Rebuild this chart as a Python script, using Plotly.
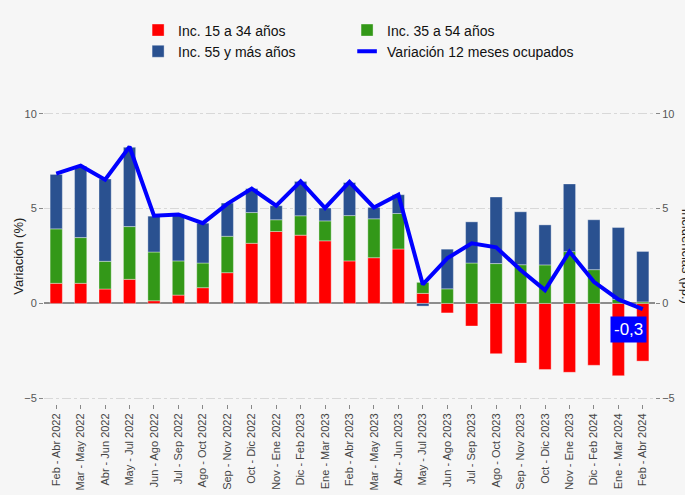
import plotly.graph_objects as go

periodos = ["Feb - Abr 2022", "Mar - May 2022", "Abr - Jun 2022", "May - Jul 2022", "Jun - Ago 2022",
            "Jul - Sep 2022", "Ago - Oct 2022", "Sep - Nov 2022", "Oct - Dic 2022", "Nov - Ene 2022",
            "Dic - Feb 2023", "Ene - Mar 2023", "Feb - Abr 2023", "Mar - May 2023", "Abr - Jun 2023",
            "May - Jul 2023", "Jun - Ago 2023", "Jul - Sep 2023", "Ago - Oct 2023", "Sep - Nov 2023",
            "Oct - Dic 2023", "Nov - Ene 2023", "Dic - Feb 2024", "Ene - Mar 2024", "Feb - Abr 2024"]

inc_15_34 = [1.06, 1.06, 0.76, 1.27, 0.14, 0.44, 0.83, 1.62, 3.17, 3.79, 3.60, 3.30, 2.24,
             2.41, 2.87, 0.53, -0.50, -1.19, -2.65, -3.14, -3.48, -3.63, -3.26, -3.81, -3.04]
inc_35_54 = [2.87, 2.41, 1.46, 2.78, 2.57, 1.80, 1.30, 1.92, 1.62, 0.62, 1.02, 1.05, 2.39,
             2.05, 1.87, 0.58, 0.77, 2.13, 2.10, 2.04, 2.03, 2.73, 1.78, 0.21, 0.08]
inc_55_mas = [2.87, 3.76, 4.34, 4.18, 1.89, 2.43, 2.10, 1.75, 1.26, 0.74, 1.81, 0.68, 1.74,
              0.60, 0.99, -0.14, 2.09, 2.17, 3.51, 2.79, 2.11, 3.57, 2.63, 3.79, 2.66]
variacion = [6.84, 7.26, 6.52, 8.26, 4.62, 4.69, 4.23, 5.25, 6.05, 5.15, 6.43, 5.03, 6.40,
             5.06, 5.73, 1.00, 2.38, 3.17, 2.96, 1.76, 0.70, 2.73, 1.14, 0.21, -0.30]

y_ticks = [-5, 0, 5, 10]

BG = "#f6f6f6"
FONT = "Liberation Sans, Arial"
EDGE = dict(color="rgba(255,255,255,0.35)", width=1)
LEG_FONT = dict(size=14, color="#111111", family=FONT)

fig = go.Figure()
fig.add_trace(go.Bar(x=periodos, y=inc_15_34, name="Inc. 15 a 34 años", marker_color="#ff0000",
                     marker_line=EDGE, legend="legend"))
fig.add_trace(go.Bar(x=periodos, y=inc_35_54, name="Inc. 35 a 54 años", marker_color="#339818",
                     marker_line=EDGE, legend="legend2"))
fig.add_trace(go.Bar(x=periodos, y=inc_55_mas, name="Inc. 55 y más años", marker_color="#2a5190",
                     marker_line=EDGE, legend="legend"))
fig.add_trace(go.Scatter(x=periodos, y=variacion, name="Variación 12 meses ocupados", mode="lines",
                         line=dict(color="#0000ff", width=4), showlegend=False))
# legend entry with a short line symbol
fig.add_trace(go.Scatter(x=[periodos[0]], y=[None], name="Variación 12 meses ocupados", mode="markers",
                         marker=dict(symbol="line-ew", size=14, line=dict(color="#0000ff", width=4)),
                         legend="legend2", hoverinfo="skip"))
# invisible trace to carry the right axis
fig.add_trace(go.Scatter(x=periodos, y=variacion, yaxis="y2", mode="lines", line=dict(width=0),
                         showlegend=False, hoverinfo="skip", opacity=0))

fig.add_annotation(x=periodos[-1], y=variacion[-1], text="-0,3", showarrow=False, xshift=-14, yshift=-20,
                   bgcolor="#0000ff", font=dict(color="white", size=17, family=FONT), borderpad=3)
fig.add_annotation(xref="paper", yref="paper", x=-0.043, xanchor="center", y=0.5, text="Variación (%)",
                   textangle=-90, showarrow=False, font=dict(size=13, color="#222222", family=FONT))
fig.add_annotation(xref="paper", yref="paper", x=1.0376, xanchor="left", y=0.5, text="Incidencias (pp.)",
                   textangle=90, showarrow=False, font=dict(size=13, color="#222222", family=FONT))

fig.update_xaxes(tickangle=-90, ticks="outside", ticklen=4, tickcolor="#888888", showgrid=False, automargin=False,
                 tickfont=dict(size=11, color="#444444", family=FONT), range=[-0.5, 24.5])
fig.update_layout(
    barmode="relative", bargap=0.5,
    plot_bgcolor=BG, paper_bgcolor=BG,
    width=685, height=495,
    margin=dict(l=44, r=30, t=108, b=91),
    font=dict(family=FONT),
    yaxis=dict(range=[-5.3, 10.3], tickvals=y_ticks, ticks="outside", ticklen=4, tickcolor="#888888",
               gridcolor="#d8d8d8", griddash="dashdot", zeroline=True, zerolinecolor="#8c8c8c", zerolinewidth=2,
               tickfont=dict(size=11, color="#555555", family=FONT), automargin=False),
    yaxis2=dict(range=[-5.3, 10.3], tickvals=y_ticks, overlaying="y", side="right", ticks="outside", ticklen=4,
                tickcolor="#888888", showgrid=False, zeroline=False, automargin=False,
                tickfont=dict(size=11, color="#555555", family=FONT)),
    legend=dict(orientation="v", x=0.154, xanchor="left", y=1.316, yanchor="top",
                bgcolor="rgba(0,0,0,0)", font=LEG_FONT, tracegroupgap=0),
    legend2=dict(orientation="v", x=0.496, xanchor="left", y=1.316, yanchor="top",
                 bgcolor="rgba(0,0,0,0)", font=LEG_FONT, tracegroupgap=0),
    showlegend=True,
)

fig.write_html("out.html", config={"displayModeBar": False}, post_script="document.body.style.margin='0';")
